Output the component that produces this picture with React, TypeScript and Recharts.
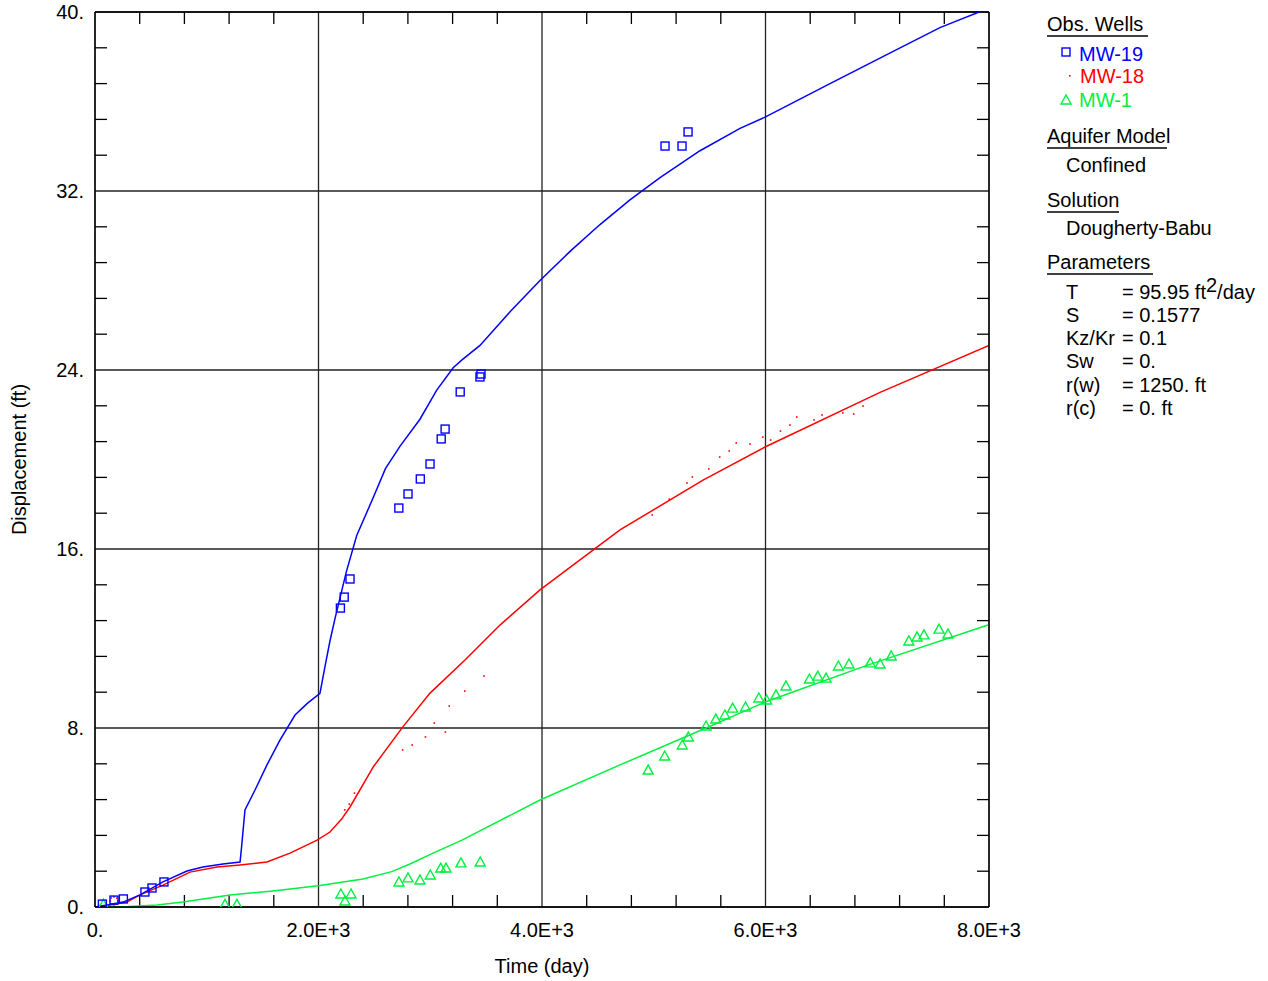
import React from 'react';
import {
  ComposedChart,
  Line,
  Scatter,
  XAxis,
  YAxis,
  CartesianGrid,
  ReferenceLine,
} from 'recharts';

// ---------- data ----------
const X_TICKS = [0, 2000, 4000, 6000, 8000];
const X_TICK_LABELS = ['0.', '2.0E+3', '4.0E+3', '6.0E+3', '8.0E+3'];
const Y_TICKS = [0, 8, 16, 24, 32, 40];
const Y_TICK_LABELS = ['0.', '8.', '16.', '24.', '32.', '40.'];
const X_MINOR = [400, 800, 1200, 1600, 2400, 2800, 3200, 3600, 4400, 4800, 5200, 5600, 6400, 6800, 7200, 7600];
const Y_MINOR = [1.6, 3.2, 4.8, 6.4, 9.6, 11.2, 12.8, 14.4, 17.6, 19.2, 20.8, 22.4, 25.6, 27.2, 28.8, 30.4, 33.6, 35.2, 36.8, 38.4];

// observed wells: [time (day), displacement (ft)]
const MW19_OBS: [number, number][] = [
  [66, 0.13], [170, 0.31], [254, 0.36], [447, 0.67], [510, 0.85], [617, 1.12],
  [2196, 13.36], [2230, 13.85], [2282, 14.66], [2719, 17.83], [2801, 18.46],
  [2911, 19.13], [2998, 19.8], [3098, 20.92], [3133, 21.36], [3268, 23.02],
  [3445, 23.69], [3454, 23.82], [5101, 34.01], [5253, 34.01], [5307, 34.64],
];
const MW18_OBS: [number, number][] = [
  [134, 0.27], [206, 0.27], [170, 0.09], [170, 0.45], [145, 0.4], [195, 0.4], [145, 0.14], [195, 0.14],
  [2235, 4.34], [2275, 4.6], [2322, 5.09], [2753, 7.02], [2838, 7.24], [2957, 7.6],
  [3036, 8.22], [3135, 7.82], [3170, 8.98], [3309, 9.65], [3481, 10.32],
  [4986, 17.52], [5139, 18.23], [5297, 18.95], [5346, 19.22], [5493, 19.58],
  [5590, 20.11], [5675, 20.38], [5738, 20.74], [5861, 20.69], [5976, 21.0],
  [6046, 20.87], [6134, 21.27], [6219, 21.54], [6280, 21.9], [6434, 21.77],
  [6506, 21.99], [6692, 22.08], [6789, 22.03], [6873, 22.39],
];
const MW1_OBS: [number, number][] = [
  [75, 0.12], [1163, 0.12], [1270, 0.12], [2200, 0.58], [2237, 0.27], [2291, 0.58],
  [2720, 1.12], [2801, 1.3], [2908, 1.21], [3000, 1.43], [3094, 1.74], [3141, 1.74],
  [3275, 1.97], [3447, 2.01],
  [4950, 6.12], [5098, 6.75], [5255, 7.24], [5310, 7.6], [5468, 8.09], [5555, 8.4],
  [5637, 8.58], [5706, 8.89], [5821, 8.94], [5940, 9.34], [6010, 9.25], [6094, 9.48],
  [6183, 9.88], [6393, 10.19], [6468, 10.32], [6542, 10.23], [6652, 10.77], [6747, 10.86],
  [6937, 10.91], [7025, 10.86], [7125, 11.22], [7283, 11.89], [7356, 12.07], [7418, 12.16],
  [7553, 12.42], [7633, 12.2],
];

// fitted curves
const MW19_FIT: [number, number][] = [
  [0, 0], [120, 0.1], [251, 0.22], [403, 0.54], [608, 1.12], [823, 1.61], [966, 1.79],
  [1145, 1.92], [1298, 2.01], [1310, 2.6], [1342, 4.34], [1432, 5.23], [1539, 6.35],
  [1655, 7.46], [1790, 8.58], [1900, 9.1], [2013, 9.55], [2060, 10.8], [2103, 11.9],
  [2148, 12.9], [2250, 15.0], [2342, 16.6], [2490, 18.3], [2600, 19.6], [2730, 20.6],
  [2908, 21.8], [3058, 23.1], [3205, 24.1], [3284, 24.45], [3445, 25.1], [3714, 26.6],
  [3982, 28.0], [4251, 29.3], [4519, 30.5], [4787, 31.6], [5056, 32.6], [5414, 33.8],
  [5772, 34.8], [5996, 35.3], [6577, 36.8], [7204, 38.4], [7561, 39.3], [7911, 40.0],
];
const MW18_FIT: [number, number][] = [
  [0, 0], [120, 0.08], [286, 0.22], [403, 0.54], [608, 0.98], [850, 1.56], [1092, 1.79],
  [1298, 1.88], [1539, 2.01], [1745, 2.41], [1987, 2.99], [2103, 3.35], [2207, 3.93],
  [2282, 4.47], [2490, 6.26], [2753, 8.04], [2998, 9.56], [3311, 11.04], [3624, 12.6],
  [3982, 14.17], [4519, 16.18], [4698, 16.85], [5441, 19.08], [5996, 20.56], [7025, 23.0],
  [8000, 25.1],
];
const MW1_FIT: [number, number][] = [
  [0, 0], [300, 0.02], [555, 0.09], [787, 0.22], [1208, 0.54], [1593, 0.72], [2013, 0.96],
  [2398, 1.25], [2655, 1.58], [2819, 1.92], [3025, 2.41], [3284, 2.99], [3982, 4.78],
  [4698, 6.35], [5468, 8.0], [5996, 9.16], [6908, 10.8], [7991, 12.6],
];

const toRows = (arr: [number, number][]) => arr.map(([t, y]) => ({ t, y }));

const BLUE = '#0000FF';
const RED = '#FF0000';
const GREEN = '#00F040';
const FONT = '"Liberation Sans", Arial, sans-serif';
const TICK_LEN = 12;

const Square = (props: any) => {
  const { cx, cy } = props;
  if (cx == null || cy == null) return null;
  return <rect x={cx - 4} y={cy - 4} width={8} height={8} fill="none" stroke={BLUE} strokeWidth={1.4} />;
};
const Dot = (props: any) => {
  const { cx, cy } = props;
  if (cx == null || cy == null) return null;
  return <rect x={cx - 0.8} y={cy - 0.8} width={1.6} height={1.6} fill={RED} />;
};
const Tri = (props: any) => {
  const { cx, cy } = props;
  if (cx == null || cy == null) return null;
  return (
    <polygon
      points={`${cx},${cy - 5} ${cx - 5},${cy + 4} ${cx + 5},${cy + 4}`}
      fill="none"
      stroke={GREEN}
      strokeWidth={1.4}
    />
  );
};

// draws only the two inward tick stubs (bottom and top) of a vertical reference line
const MinorTickShape = (props: any) => {
  const { x1, y1, y2 } = props;
  if (x1 == null || y1 == null || y2 == null) return null;
  const top = Math.min(y1, y2);
  const bot = Math.max(y1, y2);
  return (
    <g>
      <line x1={x1} x2={x1} y1={bot} y2={bot - TICK_LEN} stroke="#000" strokeWidth={1.3} />
      <line x1={x1} x2={x1} y1={top} y2={top + TICK_LEN} stroke="#000" strokeWidth={1.3} />
    </g>
  );
};

const NoLabel = () => <g />;

const Legend = () => {
  const t = { fontFamily: FONT, fontSize: 20 } as const;
  const ul = (x1: number, x2: number, y: number) => (
    <line x1={x1} x2={x2} y1={y} y2={y} stroke="#000" strokeWidth={1.3} />
  );
  return (
    <svg
      width={1268}
      height={981}
      style={{ position: 'absolute', left: 0, top: 0, pointerEvents: 'none' }}
    >
      <text x={1047} y={31} {...t} fill="#000">Obs. Wells</text>
      {ul(1047, 1148, 36)}
      <rect x={1062} y={48} width={8} height={8} fill="none" stroke={BLUE} strokeWidth={1.4} />
      <text x={1079} y={61} {...t} fill={BLUE}>MW-19</text>
      <rect x={1069} y={75} width={1.6} height={1.6} fill={RED} />
      <text x={1080} y={83} {...t} fill={RED}>MW-18</text>
      <polygon points="1066,95 1061,104 1071,104" fill="none" stroke={GREEN} strokeWidth={1.4} />
      <text x={1079} y={107} {...t} fill={GREEN}>MW-1</text>

      <text x={1047} y={143} {...t} fill="#000">Aquifer Model</text>
      {ul(1047, 1167, 148)}
      <text x={1066} y={172} {...t} fill="#000">Confined</text>

      <text x={1047} y={207} {...t} fill="#000">Solution</text>
      {ul(1047, 1119, 212)}
      <text x={1066} y={235} {...t} fill="#000">Dougherty-Babu</text>

      <text x={1047} y={269} {...t} fill="#000">Parameters</text>
      {ul(1047, 1153, 274)}
      <text x={1066} y={299} {...t} fill="#000">T</text>
      <text x={1122} y={299} {...t} fill="#000">
        = 95.95 ft<tspan dy={-7} fontSize={20}>2</tspan><tspan dy={7}>/day</tspan>
      </text>
      <text x={1066} y={322} {...t} fill="#000">S</text>
      <text x={1122} y={322} {...t} fill="#000">= 0.1577</text>
      <text x={1066} y={345} {...t} fill="#000">Kz/Kr</text>
      <text x={1122} y={345} {...t} fill="#000">= 0.1</text>
      <text x={1066} y={368} {...t} fill="#000">Sw</text>
      <text x={1122} y={368} {...t} fill="#000">= 0.</text>
      <text x={1066} y={392} {...t} fill="#000">r(w)</text>
      <text x={1122} y={392} {...t} fill="#000">= 1250. ft</text>
      <text x={1066} y={415} {...t} fill="#000">r(c)</text>
      <text x={1122} y={415} {...t} fill="#000">= 0. ft</text>
    </svg>
  );
};

export default function App() {
  const tickStyle = { fill: '#000', fontSize: 20, fontFamily: FONT };
  const minorLine = { stroke: '#000', strokeWidth: 1.3 };
  return (
    <div style={{ position: 'absolute', left: 0, top: 0, width: 1268, height: 981, background: '#fff' }}>
      <ComposedChart
        width={1268}
        height={981}
        margin={{ top: 12, right: 279, bottom: 0, left: 0 }}
      >
        <CartesianGrid xAxisId="x" yAxisId="y" stroke="#222" strokeWidth={1.3} />
        <XAxis
          xAxisId="x"
          dataKey="t"
          type="number"
          domain={[0, 8000]}
          allowDataOverflow
          ticks={X_TICKS}
          interval={0}
          tickFormatter={(v: number) => X_TICK_LABELS[X_TICKS.indexOf(v)] ?? String(v)}
          tickLine={false}
          tickSize={0}
          tickMargin={16}
          tick={tickStyle}
          axisLine={{ stroke: '#000', strokeWidth: 1.3 }}
          height={74}
          label={{
            content: (p: any) => {
              const vb = p.viewBox || {};
              return (
                <text x={vb.x + vb.width / 2} y={973} textAnchor="middle" fontSize={20} fontFamily={FONT} fill="#000">
                  Time (day)
                </text>
              );
            },
          }}
        />
        <YAxis
          yAxisId="y"
          dataKey="y"
          type="number"
          domain={[0, 40]}
          allowDataOverflow
          ticks={Y_TICKS}
          interval={0}
          tickFormatter={(v: number) => Y_TICK_LABELS[Y_TICKS.indexOf(v)] ?? String(v)}
          tickLine={false}
          tickSize={0}
          tickMargin={11}
          tick={tickStyle}
          axisLine={{ stroke: '#000', strokeWidth: 1.3 }}
          width={95}
          label={{
            content: (p: any) => {
              const vb = p.viewBox || {};
              const cy = vb.y + vb.height / 2;
              return (
                <text
                  x={26}
                  y={cy}
                  transform={`rotate(-90, 26, ${cy})`}
                  textAnchor="middle"
                  fontSize={20}
                  fontFamily={FONT}
                  fill="#000"
                >
                  Displacement (ft)
                </text>
              );
            },
          }}
        />
        <YAxis
          yAxisId="yl"
          type="number"
          domain={[0, 40]}
          allowDataOverflow
          ticks={Y_MINOR}
          interval={0}
          mirror
          tick={NoLabel}
          tickSize={TICK_LEN}
          tickLine={minorLine}
          axisLine={false}
          width={1}
        />
        <YAxis
          yAxisId="yr"
          orientation="right"
          type="number"
          domain={[0, 40]}
          allowDataOverflow
          ticks={Y_MINOR}
          interval={0}
          mirror
          tick={NoLabel}
          tickSize={TICK_LEN}
          tickLine={minorLine}
          axisLine={minorLine}
          width={1}
        />

        {X_MINOR.map((v) => (
          <ReferenceLine
            key={`m${v}`}
            xAxisId="x"
            yAxisId="y"
            x={v}
            stroke="#000"
            shape={MinorTickShape}
          />
        ))}
        <ReferenceLine xAxisId="x" yAxisId="y" y={40} stroke="#000" strokeWidth={1.3} />

        <Line xAxisId="x" yAxisId="y" data={toRows(MW1_FIT)} dataKey="y" type="linear" stroke={GREEN} strokeWidth={1.5} dot={false} isAnimationActive={false} />
        <Line xAxisId="x" yAxisId="y" data={toRows(MW18_FIT)} dataKey="y" type="linear" stroke={RED} strokeWidth={1.5} dot={false} isAnimationActive={false} />
        <Line xAxisId="x" yAxisId="y" data={toRows(MW19_FIT)} dataKey="y" type="linear" stroke={BLUE} strokeWidth={1.5} dot={false} isAnimationActive={false} />

        <Scatter xAxisId="x" yAxisId="y" data={toRows(MW1_OBS)} dataKey="y" shape={Tri} isAnimationActive={false} />
        <Scatter xAxisId="x" yAxisId="y" data={toRows(MW18_OBS)} dataKey="y" shape={Dot} isAnimationActive={false} />
        <Scatter xAxisId="x" yAxisId="y" data={toRows(MW19_OBS)} dataKey="y" shape={Square} isAnimationActive={false} />
      </ComposedChart>
      <Legend />
    </div>
  );
}
